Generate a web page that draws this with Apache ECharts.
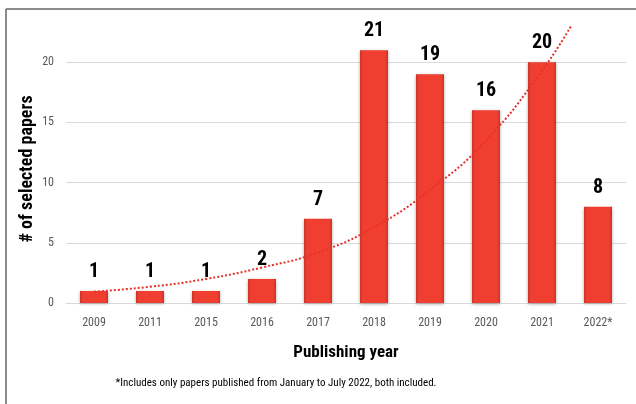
<!DOCTYPE html>
<html>
<head>
<meta charset="utf-8">
<script src="https://cdn.jsdelivr.net/npm/echarts@6/dist/echarts.min.js"></script>
<style>
html,body{margin:0;padding:0;background:#fff;}
#c{width:636px;height:404px;}
</style>
</head>
<body>
<div id="c"></div>
<script>
var categories = ['2009','2011','2015','2016','2017','2018','2019','2020','2021','2022*'];
var paperCounts = [1,1,1,2,7,21,19,16,20,8];
var trendX = [1,2,3,4,5,6,7,8,9,9.53];
var trendY = [0.94,1.35,2.0,2.95,4.2,6.3,9.4,13.5,19.3,23.1];
var yTicks = [0,5,10,15,20];
var xTitle = 'Publishing year';
var yTitle = '# of selected papers';
var footnote = '*Includes only papers published from January to July 2022, both included.';

var FONT = '"Roboto Condensed", "Open Sans Condensed", sans-serif';
var chart = echarts.init(document.getElementById('c'), null, {renderer:'canvas'});
chart.setOption({
  backgroundColor:'#fff',
  animation:false,
  grid:{left:66,right:10,top:2,bottom:101,containLabel:false},
  xAxis:[{
    type:'category',
    data:categories,
    axisTick:{show:false},
    axisLine:{lineStyle:{color:'#d9d9d9',width:1}},
    axisLabel:{color:'#595959',fontFamily:FONT,fontSize:12,margin:14},
    name:xTitle,
    nameLocation:'middle',
    nameGap:41,
    nameTextStyle:{color:'#000',fontFamily:FONT,fontSize:17,fontWeight:'bold'}
  },{
    type:'value',
    min:0.5,max:10.5,
    show:false
  }],
  yAxis:{
    type:'value',
    min:0,max:25,interval:5,
    axisLine:{show:false},
    axisTick:{show:false},
    splitLine:{lineStyle:{color:'#d9d9d9',width:1},showMaxLine:false},
    axisLabel:{color:'#595959',fontFamily:FONT,fontSize:12,margin:12,showMaxLabel:false,
      formatter:function(v){return yTicks.indexOf(v)>=0?String(v):'';}}
  },
  series:[{
    type:'bar',
    data:paperCounts,
    barWidth:28,
    itemStyle:{
      color:new echarts.graphic.LinearGradient(0,0,1,0,[
        {offset:0,color:'#c8342a'},
        {offset:0.1,color:'#f03f30'},
        {offset:0.9,color:'#f03f30'},
        {offset:1,color:'#c8342a'}
      ]),
      shadowColor:'rgba(0,0,0,0.35)',shadowBlur:3,shadowOffsetY:1
    },
    label:{show:true,position:'top',distance:9,color:'#000',fontFamily:FONT,fontSize:20,fontWeight:'bold'},
    z:2
  },{
    type:'line',
    xAxisIndex:1,
    data:trendX.map(function(x,i){return [x,trendY[i]];}),
    smooth:true,
    symbol:'none',
    lineStyle:{color:'#e8302a',width:2,type:[2,2]},
    z:3
  }],
  graphic:[
    {type:'line',shape:{x1:6,y1:9,x2:636,y2:9},style:{stroke:'#666',lineWidth:1.5}},
    {type:'line',shape:{x1:6,y1:9,x2:6,y2:404},style:{stroke:'#666',lineWidth:1.5}},
    {type:'text',x:27,y:169,rotation:Math.PI/2,
      style:{text:yTitle,fill:'#000',font:'bold 18px '+FONT,align:'center',verticalAlign:'middle'}},
    {type:'text',x:276,y:383,
      style:{text:footnote,fill:'#000',font:'11px '+FONT,align:'center',verticalAlign:'middle'}}
  ]
});
</script>
</body>
</html>
